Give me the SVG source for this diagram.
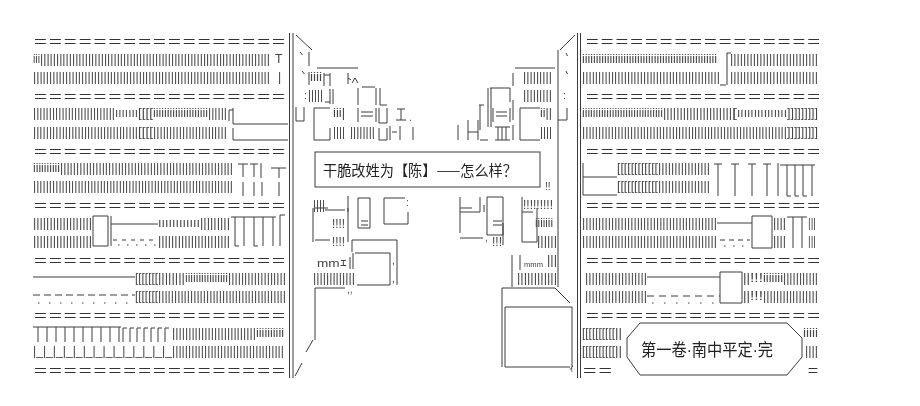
<svg xmlns="http://www.w3.org/2000/svg" width="920" height="406" viewBox="0 0 920 406">
<style>
.e{font-family:"Noto Sans CJK JP","Noto Sans CJK SC",sans-serif;font-size:14.8px;fill:#333}
.b{font-family:"Liberation Sans",sans-serif;font-size:12.3px;fill:#444}
.m{font-family:"Liberation Sans",sans-serif;font-size:10px;fill:#444}
.s{fill:none;stroke:#3c3c3c;stroke-width:1}
.c{font-family:"Noto Sans CJK SC","Noto Sans CJK JP",sans-serif;font-size:14.5px;fill:#222}
.t{font-family:"Liberation Sans","Noto Sans CJK SC",sans-serif;font-size:17px;fill:#222}
</style>
<defs>
<filter id="gray" x="0" y="0" width="920" height="406" filterUnits="userSpaceOnUse"><feColorMatrix type="saturate" values="0"/></filter>
</defs>
<rect width="920" height="406" fill="#fff"/>
<g filter="url(#gray)">
<rect width="920" height="406" fill="#fff"/>
<g id="left-building">
<text class="e" x="33" y="46.9" textLength="253" lengthAdjust="spacingAndGlyphs">＝＝＝＝＝＝＝＝＝＝＝＝＝＝＝＝＝</text>
<text class="e" x="33" y="101.7" textLength="253" lengthAdjust="spacingAndGlyphs">＝＝＝＝＝＝＝＝＝＝＝＝＝＝＝＝＝</text>
<text class="e" x="33" y="156.6" textLength="253" lengthAdjust="spacingAndGlyphs">＝＝＝＝＝＝＝＝＝＝＝＝＝＝＝＝＝</text>
<text class="e" x="33" y="211.4" textLength="253" lengthAdjust="spacingAndGlyphs">＝＝＝＝＝＝＝＝＝＝＝＝＝＝＝＝＝</text>
<text class="e" x="33" y="266.3" textLength="253" lengthAdjust="spacingAndGlyphs">＝＝＝＝＝＝＝＝＝＝＝＝＝＝＝＝＝</text>
<text class="e" x="33" y="321.1" textLength="253" lengthAdjust="spacingAndGlyphs">＝＝＝＝＝＝＝＝＝＝＝＝＝＝＝＝＝</text>
<text class="e" x="33" y="375.9" textLength="253" lengthAdjust="spacingAndGlyphs">＝＝＝＝＝＝＝＝＝＝＝＝＝＝＝＝＝</text>
<text class="b" x="33" y="62.5" textLength="7" lengthAdjust="spacingAndGlyphs">iii</text>
<text class="b" x="40" y="62.5" textLength="230" lengthAdjust="spacingAndGlyphs">||||||||||||||||||||||||||||||||||||||||||||||||||||||||||||||||||||||||</text>
<text class="b" x="275" y="62.5">T</text>
<text class="b" x="33" y="80.8" textLength="237" lengthAdjust="spacingAndGlyphs">||||||||||||||||||||||||||||||||||||||||||||||||||||||||||||||||||||||||||</text>
<text class="b" x="278" y="80.8">|</text>
<text class="b" x="33" y="117.3" textLength="82" lengthAdjust="spacingAndGlyphs">||||||||||||||||||||||||||</text>
<text class="b" x="115" y="117.3" textLength="23" lengthAdjust="spacingAndGlyphs">ııııııı</text>
<text class="b" x="138" y="117.3" textLength="15" lengthAdjust="spacingAndGlyphs">[[[[</text>
<text class="b" x="153" y="117.3" textLength="55" lengthAdjust="spacingAndGlyphs">iiiiiiiiiiiiiiiiiiii</text>
<text class="b" x="208" y="117.3" textLength="19" lengthAdjust="spacingAndGlyphs">||||||</text>
<text class="b" x="33" y="135.6" textLength="105" lengthAdjust="spacingAndGlyphs">|||||||||||||||||||||||||||||||||</text>
<text class="b" x="138" y="135.6" textLength="15" lengthAdjust="spacingAndGlyphs">[[[[</text>
<text class="b" x="153" y="135.6" textLength="74" lengthAdjust="spacingAndGlyphs">|||||||||||||||||||||||</text>
<text class="b" x="33" y="172.2" textLength="27" lengthAdjust="spacingAndGlyphs">iiiiiiiiii</text>
<text class="b" x="60" y="172.2" textLength="173" lengthAdjust="spacingAndGlyphs">||||||||||||||||||||||||||||||||||||||||||||||||||||||</text>
<text class="b" x="33" y="190.4" textLength="200" lengthAdjust="spacingAndGlyphs">|||||||||||||||||||||||||||||||||||||||||||||||||||||||||||||||</text>
<text class="b" x="33" y="227" textLength="59" lengthAdjust="spacingAndGlyphs">||||||||||||||||||</text>
<text class="b" x="158" y="227" textLength="42" lengthAdjust="spacingAndGlyphs">ıııııııııııı</text>
<text class="b" x="200" y="227" textLength="30" lengthAdjust="spacingAndGlyphs">|||||||||</text>
<text class="b" x="33" y="245.3" textLength="59" lengthAdjust="spacingAndGlyphs">||||||||||||||||||</text>
<text class="b" x="158" y="245.3" textLength="72" lengthAdjust="spacingAndGlyphs">||||||||||||||||||||||</text>
<text class="b" x="135" y="281.8" textLength="23" lengthAdjust="spacingAndGlyphs">[[[[[[[</text>
<text class="b" x="158" y="281.8" textLength="27" lengthAdjust="spacingAndGlyphs">||||||||</text>
<text class="b" x="185" y="281.8" textLength="43" lengthAdjust="spacingAndGlyphs">iiiiiiiiiiiiiiii</text>
<text class="b" x="228" y="281.8" textLength="58" lengthAdjust="spacingAndGlyphs">||||||||||||||||||</text>
<text class="b" x="135" y="300.1" textLength="23" lengthAdjust="spacingAndGlyphs">[[[[[[[</text>
<text class="b" x="158" y="300.1" textLength="128" lengthAdjust="spacingAndGlyphs">||||||||||||||||||||||||||||||||||||||||</text>
<text class="b" x="172" y="336.7" textLength="84" lengthAdjust="spacingAndGlyphs">||||||||||||||||||||||||||</text>
<text class="b" x="256" y="336.7" textLength="28" lengthAdjust="spacingAndGlyphs">iiiiiiiiii</text>
<text class="b" x="33" y="355" textLength="139" lengthAdjust="spacingAndGlyphs">|_|_|_|_|_|_|_|_|_|_|_|_|_|_</text>
<text class="b" x="172" y="355" textLength="112" lengthAdjust="spacingAndGlyphs">|||||||||||||||||||||||||||||||||||</text>
<path class="s" d="M289.5,33V378M293,33V378M229,121V110H233M233,108V124H288M233,128V140H288M238,164H248M243,164V177M250,164H258M254,164V177M261,163V178M271,168H286M279,168V178M243,182V196M254,182V196M262,182V196M279,182V196M93,216H108V246H93ZM111,216V246M111,224H158M231,217H276M235,217V246M244,217V246M254,217V246M263,217V246M273,217V246M235,246h4M254,246h4M280,215V246M280,215H285M33,277H135M33,327H121M38,327V342M47,327V342M56,327V342M65,327V342M74,327V342M83,327V342M92,327V342M101,327V342M110,327V342M119,327V342M123,328V342M123,328h4M130,328V342M130,328h4M137,328V342M137,328h4M144,328V342M144,328h4M151,328V342M151,328h4M158,328V342M158,328h4M165,328V342M165,328h4"/>
<line class="s" x1="113" y1="240" x2="158" y2="240" stroke-dasharray="4 5"/>
<line class="s" x1="118" y1="245" x2="158" y2="245" stroke-dasharray="1.5 7.5"/>
<line class="s" x1="33" y1="295" x2="135" y2="295" stroke-dasharray="7 4"/>
<line class="s" x1="38" y1="303" x2="135" y2="303" stroke-dasharray="1.5 9.5"/>
</g>
<g id="center-left-building">
<path class="s" d="M296,35L312,50M300,52l2.5,3M302,71l2.5,3M309,52V66M317,68H358M309,72V85M324,73V86M324,75H330M330,73V86M348,73V84M348,78l3,2M352,83l3,-5l3,5M362,87H375M325,102H330M330,89V104M333,89V104M358,88V105M376,88V105M380,88V105M380,105H387M296,107V121H304V107M314,108V140H330V128M314,108H330M358,108V122M376,108V122M361,112h12M361,116h12M379,108V123H387V108M397,109H405M401,109V120M396,120H406M379,128V140H387V128M390,126V140M392,132h5M400,126V140M413,127V140M325,210H345M348,196V212M358,198H370V228H358ZM361,221h7M361,225h7M384,198V224H408V212M384,198H405M313,208V242M315,208H328M348,208V242M315,240H330M352,240H397V285M352,240V252M350,257V269M353,253V269M355,253H390V285H357M315,288V340M315,288H345M313,340L306,352M302,363L295,376"/>
<text class="m" x="304" y="99">:</text>
<text class="b" x="310" y="80.8" textLength="12" lengthAdjust="spacingAndGlyphs">iiii</text>
<text class="b" x="308" y="99" textLength="15" lengthAdjust="spacingAndGlyphs">|||||</text>
<text class="b" x="333" y="117.3" textLength="12" lengthAdjust="spacingAndGlyphs">iii|</text>
<text class="b" x="333" y="135.6" textLength="12" lengthAdjust="spacingAndGlyphs">||||</text>
<text class="b" x="350" y="135.6" textLength="25" lengthAdjust="spacingAndGlyphs">||||||||</text>
<text class="m" x="409" y="121">.</text>
<text class="b" x="313" y="208.7" textLength="12" lengthAdjust="spacingAndGlyphs">||||</text>
<text class="m" x="406" y="206">:</text>
<text class="b" x="332" y="227.5" textLength="13" lengthAdjust="spacingAndGlyphs">!!!!</text>
<text class="b" x="332" y="245.5" textLength="13" lengthAdjust="spacingAndGlyphs">!!!!</text>
<text class="m" x="317" y="267" style="font-size:11px" textLength="30" lengthAdjust="spacingAndGlyphs">mmｴ</text>
<text class="m" x="392" y="264">,</text>
<text class="m" x="392" y="282">,</text>
<text class="b" x="313" y="281.8" textLength="42" lengthAdjust="spacingAndGlyphs">|||||||||||||</text>
<text class="m" x="347" y="293">,,</text>
</g>
<g id="speech-bubble">
<rect class="s" x="315" y="152" width="225" height="35"/>
<text class="c" x="323" y="175.5" textLength="194" lengthAdjust="spacingAndGlyphs">干脆改姓为【陈】——怎么样？</text>
<text class="m" x="545" y="190">!!</text>
</g>
<g id="center-right-building">
<path class="s" d="M560,50L575,35M515,68H555M558,50V287M566,53l1.5,3M566,71l1.5,3M513,73V86M490,88H510M488,88V127M491,88V127M510,88V102M479,105H484M480,105V130M493,108V122M510,108V122M496,112h11M496,116h11M513,100V120M520,108V140H540M520,108H540M558,120H567V108M458,125V140M468,120V140M468,132H478M478,120V140M480,140H488M495,127H510M495,140H510M498,127V140M502,127V140M506,127V140M513,125V140M460,197V233M460,212H480M480,197V212M484,205V212M487,197V235H503V197H487M493,221h9M493,225h9M522,197V242H537V208M460,208H472M522,212H533M460,238H483M503,223V245M512,255V287M520,255V270M502,288V367M502,288H555L570,303M505,307V367H570M505,307H572M572,307V367"/>
<text class="m" x="563" y="99">:</text>
<text class="b" x="523" y="80.8" textLength="29" lengthAdjust="spacingAndGlyphs">|||||||||</text>
<text class="b" x="523" y="99" textLength="29" lengthAdjust="spacingAndGlyphs">|||||||||</text>
<text class="b" x="540" y="117.3" textLength="12" lengthAdjust="spacingAndGlyphs">ii||</text>
<text class="b" x="540" y="135.6" textLength="12" lengthAdjust="spacingAndGlyphs">||||</text>
<text class="b" x="523" y="209" textLength="30" lengthAdjust="spacingAndGlyphs">!!!!!!!!!</text>
<text class="b" x="535" y="227" textLength="18" lengthAdjust="spacingAndGlyphs">iiiiiii</text>
<text class="m" x="485" y="241">,</text>
<text class="b" x="492" y="245.5" textLength="10" lengthAdjust="spacingAndGlyphs">!!!</text>
<text class="b" x="537" y="245.3" textLength="20" lengthAdjust="spacingAndGlyphs">||||||</text>
<text class="m" x="524" y="267" style="font-size:7.5px" textLength="19" lengthAdjust="spacingAndGlyphs">mmm</text>
<text class="b" x="547" y="264" textLength="10" lengthAdjust="spacingAndGlyphs">|||</text>
<text class="b" x="517" y="281.8" textLength="40" lengthAdjust="spacingAndGlyphs">||||||||||||</text>
<text class="m" x="569" y="372">ｨ</text>
</g>
<g id="right-building">
<text class="e" x="585" y="46.9" textLength="236" lengthAdjust="spacingAndGlyphs">＝＝＝＝＝＝＝＝＝＝＝＝＝＝＝＝</text>
<text class="e" x="585" y="101.7" textLength="236" lengthAdjust="spacingAndGlyphs">＝＝＝＝＝＝＝＝＝＝＝＝＝＝＝＝</text>
<text class="e" x="585" y="156.6" textLength="236" lengthAdjust="spacingAndGlyphs">＝＝＝＝＝＝＝＝＝＝＝＝＝＝＝＝</text>
<text class="e" x="585" y="211.4" textLength="236" lengthAdjust="spacingAndGlyphs">＝＝＝＝＝＝＝＝＝＝＝＝＝＝＝＝</text>
<text class="e" x="585" y="266.3" textLength="236" lengthAdjust="spacingAndGlyphs">＝＝＝＝＝＝＝＝＝＝＝＝＝＝＝＝</text>
<text class="e" x="585" y="321.1" textLength="236" lengthAdjust="spacingAndGlyphs">＝＝＝＝＝＝＝＝＝＝＝＝＝＝＝＝</text>
<text class="e" x="582" y="375.9" textLength="31" lengthAdjust="spacingAndGlyphs">＝＝</text>
<text class="e" x="807" y="375.9" textLength="12" lengthAdjust="spacingAndGlyphs">＝</text>
<text class="b" x="582" y="62.5" textLength="135" lengthAdjust="spacingAndGlyphs">iiiiiiiiiiiiiiiiiiiiiiiiiiiiiiiiiiiiiiiiiiiiiiiii</text>
<text class="b" x="730" y="62.5" textLength="88" lengthAdjust="spacingAndGlyphs">|||||||||||||||||||||||||||</text>
<text class="b" x="582" y="80.8" textLength="138" lengthAdjust="spacingAndGlyphs">|||||||||||||||||||||||||||||||||||||||||||</text>
<text class="b" x="730" y="80.8" textLength="88" lengthAdjust="spacingAndGlyphs">|||||||||||||||||||||||||||</text>
<text class="b" x="582" y="117.3" textLength="81" lengthAdjust="spacingAndGlyphs">iiiiiiiiiiiiiiiiiiiiiiiiiiiiii</text>
<text class="b" x="663" y="117.3" textLength="69" lengthAdjust="spacingAndGlyphs">|||||||||||||||||||||</text>
<text class="b" x="732" y="117.3" textLength="5" lengthAdjust="spacingAndGlyphs">[</text>
<text class="b" x="737" y="117.3" textLength="50" lengthAdjust="spacingAndGlyphs">ııııııııııııııı</text>
<text class="b" x="787" y="117.3" textLength="31" lengthAdjust="spacingAndGlyphs">]]]]]]]]]</text>
<text class="b" x="582" y="135.6" textLength="205" lengthAdjust="spacingAndGlyphs">||||||||||||||||||||||||||||||||||||||||||||||||||||||||||||||||</text>
<text class="b" x="787" y="135.6" textLength="31" lengthAdjust="spacingAndGlyphs">]]]]]]]]]</text>
<text class="b" x="617" y="172.2" textLength="41" lengthAdjust="spacingAndGlyphs">[[[[[[[[[[[[</text>
<text class="b" x="658" y="172.2" textLength="52" lengthAdjust="spacingAndGlyphs">||||||||||||||||</text>
<text class="b" x="617" y="190.4" textLength="41" lengthAdjust="spacingAndGlyphs">[[[[[[[[[[[[</text>
<text class="b" x="658" y="190.4" textLength="52" lengthAdjust="spacingAndGlyphs">||||||||||||||||</text>
<text class="b" x="582" y="227" textLength="135" lengthAdjust="spacingAndGlyphs">||||||||||||||||||||||||||||||||||||||||||</text>
<text class="b" x="773" y="227" textLength="13" lengthAdjust="spacingAndGlyphs">||||</text>
<text class="b" x="808" y="227" textLength="8" lengthAdjust="spacingAndGlyphs">|||</text>
<text class="b" x="582" y="245.3" textLength="135" lengthAdjust="spacingAndGlyphs">||||||||||||||||||||||||||||||||||||||||||</text>
<text class="b" x="773" y="245.3" textLength="13" lengthAdjust="spacingAndGlyphs">||||</text>
<text class="b" x="808" y="245.3" textLength="8" lengthAdjust="spacingAndGlyphs">|||</text>
<text class="b" x="585" y="281.8" textLength="62" lengthAdjust="spacingAndGlyphs">|||||||||||||||||||</text>
<text class="b" x="743" y="281.8" textLength="7" lengthAdjust="spacingAndGlyphs">||</text>
<text class="b" x="750" y="281.8" textLength="13" lengthAdjust="spacingAndGlyphs">!!!</text>
<text class="b" x="763" y="281.8" textLength="20" lengthAdjust="spacingAndGlyphs">iiiiiii</text>
<text class="b" x="783" y="281.8" textLength="35" lengthAdjust="spacingAndGlyphs">|||||||||||</text>
<text class="b" x="585" y="300.1" textLength="62" lengthAdjust="spacingAndGlyphs">|||||||||||||||||||</text>
<text class="b" x="743" y="300.1" textLength="7" lengthAdjust="spacingAndGlyphs">||</text>
<text class="b" x="750" y="300.1" textLength="13" lengthAdjust="spacingAndGlyphs">!!!</text>
<text class="b" x="763" y="300.1" textLength="55" lengthAdjust="spacingAndGlyphs">|||||||||||||||||</text>
<text class="b" x="582" y="336.7" textLength="33" lengthAdjust="spacingAndGlyphs">[[[[[[[[[[</text>
<text class="b" x="615" y="336.7" textLength="7" lengthAdjust="spacingAndGlyphs">||</text>
<text class="b" x="582" y="355" textLength="33" lengthAdjust="spacingAndGlyphs">[[[[[[[[[[</text>
<text class="b" x="615" y="355" textLength="7" lengthAdjust="spacingAndGlyphs">||</text>
<text class="b" x="803" y="336.7" textLength="15" lengthAdjust="spacingAndGlyphs">iiiii</text>
<text class="b" x="805" y="355" textLength="13" lengthAdjust="spacingAndGlyphs">||||</text>
<path class="s" d="M577.5,33V378M580.5,33V378M727,53V85M727,53H731M720,85H726M583,163V195M583,177H617M583,195H617M714,164H722M718,164V196M731,164H739M735,164V196M748,164H756M752,164V196M763,164H771M767,164V196M778,163V196M780,165H815M787,165V196M795,165V196M803,165V196M812,165V196M787,196h4M795,196h4M803,196h4M717,223H752M752,216H772V248H752ZM787,217H807M793,217V248M802,217V248M647,277H720M720,272H742V303H720Z"/>
<line class="s" x1="720" y1="240" x2="750" y2="240" stroke-dasharray="5 4"/>
<line class="s" x1="724" y1="246" x2="750" y2="246" stroke-dasharray="1.5 7.5"/>
<line class="s" x1="647" y1="296" x2="720" y2="296" stroke-dasharray="7 5"/>
<line class="s" x1="652" y1="303" x2="720" y2="303" stroke-dasharray="1.5 10.5"/>
</g>
<g id="title-label">
<path class="s" d="M640,323H787L802,338V357L787,375H640L627,357V338Z"/>
<text class="t" x="641" y="356" textLength="132" lengthAdjust="spacingAndGlyphs">第一卷·南中平定·完</text>
</g>
</g>
</svg>
